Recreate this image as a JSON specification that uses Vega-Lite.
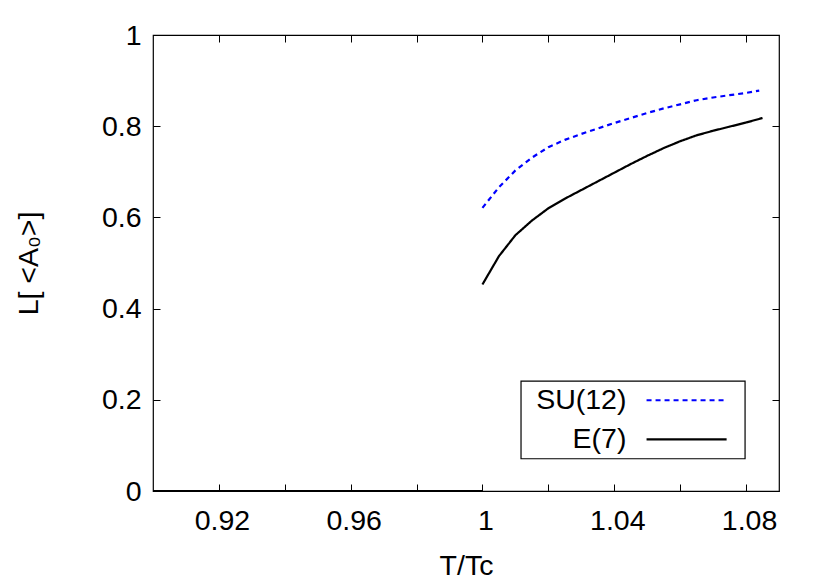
{
  "$schema": "https://vega.github.io/schema/vega-lite/v6.json",
  "width": 626,
  "height": 456,
  "autosize": {"type": "none"},
  "padding": {"left": 153, "top": 35, "right": 51, "bottom": 90},
  "background": "white",
  "config": {
    "view": {"stroke": "black", "strokeWidth": 1.2},
    "font": "Liberation Sans",
    "axis": {
      "domain": false,
      "grid": false,
      "tickColor": "black",
      "tickSize": -7,
      "tickWidth": 1,
      "labelFont": "Liberation Sans",
      "labelFontSize": 28.5,
      "labelColor": "black",
      "titleFont": "Liberation Sans",
      "titleFontSize": 28.5,
      "titleFontWeight": "normal",
      "titleColor": "black"
    }
  },
  "datasets": {
    "curves": [
      {"series": "SU(12)", "seg": "low", "T": 0.9, "L": 0},
      {"series": "SU(12)", "seg": "low", "T": 1.0, "L": 0},
      {"series": "SU(12)", "seg": "high", "T": 1.000, "L": 0.621},
      {"series": "SU(12)", "seg": "high", "T": 1.005, "L": 0.666},
      {"series": "SU(12)", "seg": "high", "T": 1.010, "L": 0.703},
      {"series": "SU(12)", "seg": "high", "T": 1.015, "L": 0.731},
      {"series": "SU(12)", "seg": "high", "T": 1.020, "L": 0.754},
      {"series": "SU(12)", "seg": "high", "T": 1.025, "L": 0.770},
      {"series": "SU(12)", "seg": "high", "T": 1.030, "L": 0.783},
      {"series": "SU(12)", "seg": "high", "T": 1.035, "L": 0.795},
      {"series": "SU(12)", "seg": "high", "T": 1.040, "L": 0.807},
      {"series": "SU(12)", "seg": "high", "T": 1.045, "L": 0.818},
      {"series": "SU(12)", "seg": "high", "T": 1.050, "L": 0.829},
      {"series": "SU(12)", "seg": "high", "T": 1.055, "L": 0.839},
      {"series": "SU(12)", "seg": "high", "T": 1.060, "L": 0.848},
      {"series": "SU(12)", "seg": "high", "T": 1.065, "L": 0.857},
      {"series": "SU(12)", "seg": "high", "T": 1.070, "L": 0.863},
      {"series": "SU(12)", "seg": "high", "T": 1.075, "L": 0.868},
      {"series": "SU(12)", "seg": "high", "T": 1.080, "L": 0.873},
      {"series": "SU(12)", "seg": "high", "T": 1.084, "L": 0.878},
      {"series": "E(7)", "seg": "low", "T": 0.9, "L": 0},
      {"series": "E(7)", "seg": "low", "T": 1.0, "L": 0},
      {"series": "E(7)", "seg": "high", "T": 1.000, "L": 0.453},
      {"series": "E(7)", "seg": "high", "T": 1.005, "L": 0.515},
      {"series": "E(7)", "seg": "high", "T": 1.010, "L": 0.561},
      {"series": "E(7)", "seg": "high", "T": 1.015, "L": 0.593},
      {"series": "E(7)", "seg": "high", "T": 1.020, "L": 0.620},
      {"series": "E(7)", "seg": "high", "T": 1.025, "L": 0.641},
      {"series": "E(7)", "seg": "high", "T": 1.030, "L": 0.660},
      {"series": "E(7)", "seg": "high", "T": 1.035, "L": 0.679},
      {"series": "E(7)", "seg": "high", "T": 1.040, "L": 0.698},
      {"series": "E(7)", "seg": "high", "T": 1.045, "L": 0.717},
      {"series": "E(7)", "seg": "high", "T": 1.050, "L": 0.735},
      {"series": "E(7)", "seg": "high", "T": 1.055, "L": 0.752},
      {"series": "E(7)", "seg": "high", "T": 1.060, "L": 0.767},
      {"series": "E(7)", "seg": "high", "T": 1.065, "L": 0.780},
      {"series": "E(7)", "seg": "high", "T": 1.070, "L": 0.790},
      {"series": "E(7)", "seg": "high", "T": 1.075, "L": 0.799},
      {"series": "E(7)", "seg": "high", "T": 1.080, "L": 0.808},
      {"series": "E(7)", "seg": "high", "T": 1.085, "L": 0.818}
    ],
    "one": [{}]
  },
  "layer": [
    {
      "data": {"name": "curves"},
      "mark": {"type": "line", "strokeWidth": 2.2, "clip": true},
      "encoding": {
        "x": {
          "field": "T", "type": "quantitative",
          "scale": {"domain": [0.9, 1.09], "nice": false, "zero": false},
          "axis": {
            "orient": "bottom",
            "values": [0.92, 0.94, 0.96, 0.98, 1.0, 1.02, 1.04, 1.06, 1.08],
            "format": "~g",
            "labelExpr": "round(datum.value*100) % 4 == 0 ? datum.label : ''",
            "labelPadding": 22,
            "labelOffset": 3,
            "title": "T/Tc",
            "titlePadding": 17
          }
        },
        "y": {
          "field": "L", "type": "quantitative",
          "scale": {"domain": [0, 1], "nice": false},
          "axis": {
            "orient": "left",
            "values": [0, 0.2, 0.4, 0.6, 0.8, 1],
            "format": "~g",
            "labelPadding": 19,
            "title": "L[ <A₀>]",
            "titlePadding": 58
          }
        },
        "color": {
          "field": "series", "type": "nominal",
          "scale": {"domain": ["SU(12)", "E(7)"], "range": ["#0000ff", "#000000"]},
          "legend": null
        },
        "strokeDash": {
          "field": "series", "type": "nominal",
          "scale": {"domain": ["SU(12)", "E(7)"], "range": [[5, 4], [1, 0]]},
          "legend": null
        },
        "detail": {"field": "seg"}
      }
    },
    {
      "data": {"name": "one"},
      "mark": {"type": "rect", "fill": "white", "stroke": "black", "strokeWidth": 1.2},
      "encoding": {
        "x": {"datum": 1.0117, "type": "quantitative",
          "scale": {"domain": [0.9, 1.09], "nice": false, "zero": false},
          "axis": {"orient": "top", "values": [0.92, 0.94, 0.96, 0.98, 1.0, 1.02, 1.04, 1.06, 1.08], "labels": false, "title": null}},
        "x2": {"datum": 1.0797},
        "y": {"datum": 0.0707, "type": "quantitative",
          "scale": {"domain": [0, 1], "nice": false},
          "axis": {"orient": "right", "values": [0, 0.2, 0.4, 0.6, 0.8, 1], "labels": false, "title": null}},
        "y2": {"datum": 0.241}
      }
    },
    {
      "data": {"name": "one"},
      "mark": {"type": "text", "text": "SU(12)", "align": "right", "baseline": "middle", "fontSize": 28.5, "font": "Liberation Sans", "color": "black"},
      "encoding": {
        "x": {"datum": 1.0437, "type": "quantitative", "scale": {"domain": [0.9, 1.09], "nice": false, "zero": false}, "axis": null},
        "y": {"datum": 0.199, "type": "quantitative", "scale": {"domain": [0, 1], "nice": false}, "axis": null}
      }
    },
    {
      "data": {"name": "one"},
      "mark": {"type": "text", "text": "E(7)", "align": "right", "baseline": "middle", "fontSize": 28.5, "font": "Liberation Sans", "color": "black"},
      "encoding": {
        "x": {"datum": 1.0437, "type": "quantitative", "scale": {"domain": [0.9, 1.09], "nice": false, "zero": false}, "axis": null},
        "y": {"datum": 0.113, "type": "quantitative", "scale": {"domain": [0, 1], "nice": false}, "axis": null}
      }
    },
    {
      "data": {"name": "one"},
      "mark": {"type": "rule", "color": "#0000ff", "strokeWidth": 2.2, "strokeDash": [5, 4]},
      "encoding": {
        "x": {"datum": 1.0498, "type": "quantitative", "scale": {"domain": [0.9, 1.09], "nice": false, "zero": false}, "axis": null},
        "x2": {"datum": 1.0741},
        "y": {"datum": 0.199, "type": "quantitative", "scale": {"domain": [0, 1], "nice": false}, "axis": null}
      }
    },
    {
      "data": {"name": "one"},
      "mark": {"type": "rule", "color": "#000000", "strokeWidth": 2.2},
      "encoding": {
        "x": {"datum": 1.0498, "type": "quantitative", "scale": {"domain": [0.9, 1.09], "nice": false, "zero": false}, "axis": null},
        "x2": {"datum": 1.0741},
        "y": {"datum": 0.113, "type": "quantitative", "scale": {"domain": [0, 1], "nice": false}, "axis": null}
      }
    }
  ],
  "resolve": {"axis": {"x": "independent", "y": "independent"}}
}
